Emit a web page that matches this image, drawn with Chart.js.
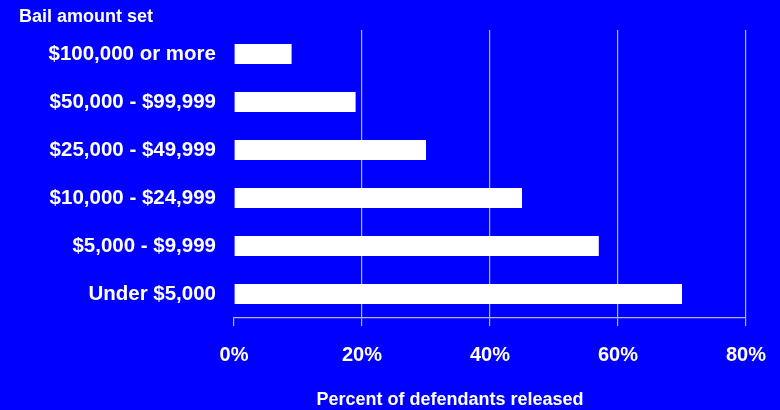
<!DOCTYPE html>
<html>
<head>
<meta charset="utf-8">
<script src="https://cdn.jsdelivr.net/npm/chart.js@4"></script>
<style>
  html, body { margin: 0; padding: 0; background: #0000ff; }
  #wrap { width: 780px; height: 410px; }
</style>
</head>
<body>
<div id="wrap"><canvas id="bailChart"></canvas></div>
<script>
// categories (top to bottom) and percent released
const categories = ['$100,000 or more', '$50,000 - $99,999', '$25,000 - $49,999', '$10,000 - $24,999', '$5,000 - $9,999', 'Under $5,000'];
const released = [9, 19, 30, 45, 57, 70];
const xTicks = [0, 20, 40, 60, 80];

const FONT = '"Liberation Sans", Arial, sans-serif';
const GRID = '#b4b4d2';

// draws the two plain text titles
const titles = {
    id: 'titles',
    afterDraw(chart) {
        const c = chart.ctx;
        c.save();
        c.fillStyle = '#ffffff';
        c.font = 'bold 18px ' + FONT;
        c.textBaseline = 'alphabetic';
        c.textAlign = 'left';
        c.fillText('Bail amount set', 19, 22);
        c.textAlign = 'center';
        c.fillText('Percent of defendants released', 450, 405);
        c.restore();
    }
};

new Chart(document.getElementById('bailChart'), {
    type: 'bar',
    data: {
        labels: categories,
        datasets: [{
            data: released,
            backgroundColor: '#ffffff',
            borderWidth: 0,
            barPercentage: 0.42,
            categoryPercentage: 1
        }]
    },
    options: {
        indexAxis: 'y',
        responsive: true,
        maintainAspectRatio: false,
        animation: false,
        layout: { padding: { top: 30, right: 34, left: 0, bottom: 0 } },
        plugins: {
            legend: { display: false },
            tooltip: { enabled: false }
        },
        scales: {
            x: {
                min: 0,
                max: 80,
                afterFit: s => { s.height = 92; },
                afterBuildTicks: s => { s.ticks = xTicks.map(v => ({ value: v })); },
                ticks: {
                    color: '#ffffff',
                    padding: 0,
                    maxRotation: 0,
                    // tall line height pushes the labels down without widening the side padding
                    font: { family: FONT, size: 20, weight: 'bold', lineHeight: 2.9 },
                    callback: v => v + '%'
                },
                grid: {
                    color: ctx => (ctx.tick && ctx.tick.value === 0) ? 'rgba(0,0,0,0)' : GRID,
                    tickColor: GRID,
                    tickLength: 8,
                    lineWidth: 1.2
                },
                border: { display: true, color: GRID, width: 1.2 }
            },
            y: {
                afterFit: s => { s.width = 234; },
                ticks: {
                    color: '#ffffff',
                    padding: 10,
                    font: { family: FONT, size: 20.5, weight: 'bold' }
                },
                grid: { display: false },
                border: { display: false }
            }
        }
    },
    plugins: [titles]
});
</script>
</body>
</html>
